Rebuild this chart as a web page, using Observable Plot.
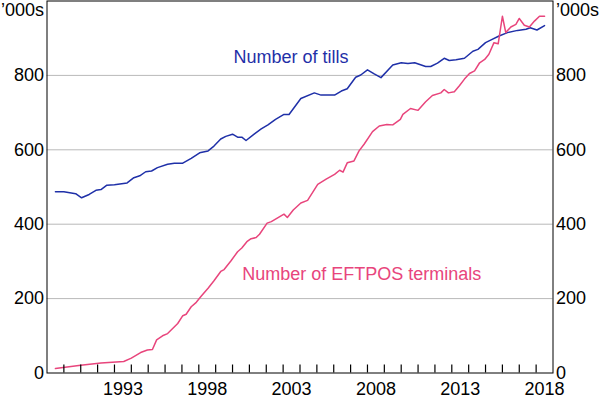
<!DOCTYPE html>
<html>
<head>
<meta charset="utf-8">
<script src="https://cdn.jsdelivr.net/npm/d3@7"></script>
<script src="https://cdn.jsdelivr.net/npm/@observablehq/plot@0.6"></script>
<style>
  html, body { margin: 0; padding: 0; background: white; }
</style>
</head>
<body>
<div id="chart"></div>
<script>
// Number of tills ('000s)
const tillYears = [1989.5,1990.0,1990.7,1991.05,1991.5,1991.9,1992.2,1992.55,1993.0,1993.75,1994.15,1994.5,1994.85,1995.2,1995.55,1996.15,1996.55,1997.05,1997.55,1998.05,1998.55,1998.9,1999.3,1999.6,2000.0,2000.3,2000.55,2000.8,2001.3,2001.7,2002.1,2002.55,2003.05,2003.35,2004.05,2004.85,2005.25,2006.05,2006.45,2006.8,2007.3,2007.6,2008.0,2008.4,2008.8,2009.5,2010.0,2010.4,2010.8,2011.45,2011.75,2012.15,2012.55,2012.85,2013.25,2013.75,2014.25,2014.55,2015.0,2015.3,2015.8,2016.3,2016.9,2017.4,2017.65,2018.05,2018.5];
const tillValues = [487,487,482,471,480,491,493,505,506,511,525,530,541,543,552,561,564,564,577,592,597,610,629,636,642,634,634,625,643,656,667,682,695,695,738,753,747,747,758,764,795,801,815,804,794,828,834,832,834,824,824,833,846,840,842,846,865,870,888,895,906,915,921,924,928,922,934];

// Number of EFTPOS terminals ('000s)
const eftposYears = [1989.5,1991.0,1992.2,1993.55,1994.0,1994.55,1994.95,1995.25,1995.5,1995.85,1996.15,1996.75,1997.05,1997.25,1997.55,1997.85,1998.15,1998.55,1998.9,1999.3,1999.5,1999.9,2000.3,2000.55,2000.85,2001.1,2001.4,2001.6,2002.05,2002.3,2003.05,2003.25,2003.6,2004.05,2004.45,2005.05,2005.55,2006.05,2006.35,2006.55,2006.8,2007.2,2007.5,2007.8,2008.3,2008.7,2009.15,2009.5,2009.95,2010.1,2010.55,2011.0,2011.45,2011.85,2012.35,2012.55,2012.8,2013.15,2013.45,2013.75,2014.05,2014.35,2014.65,2014.95,2015.2,2015.5,2015.75,2016.0,2016.2,2016.5,2016.8,2017.0,2017.3,2017.6,2017.9,2018.2,2018.5];
const eftposValues = [12,21,27,31,40,55,62,63,89,100,106,133,154,158,178,190,207,228,248,273,278,301,326,336,353,361,364,373,403,407,427,418,438,457,464,507,521,534,545,540,565,570,597,615,649,664,668,667,682,695,711,706,729,746,753,762,753,756,772,790,805,812,834,843,857,888,885,959,915,930,937,953,935,930,946,959,959];

const yTicks = [0, 200, 400, 600, 800];
const gridValues = [200, 400, 600, 800];
const yearTicks = [1990,1991,1992,1993,1994,1995,1996,1997,1998,1999,2000,2001,2002,2003,2004,2005,2006,2007,2008,2009,2010,2011,2012,2013,2014,2015,2016,2017,2018];
const yearLabels = [1993, 1998, 2003, 2008, 2013, 2018];
const unitLabel = "\u2019000s";

const seriesNames = ["Number of tills", "Number of EFTPOS terminals"];
const labelX = [2000.05, 2000.57];
const labelY = [832, 249];

const blue = "#1f30a8";
const pink = "#e8457c";

const tills = tillYears.map((year, i) => ({year, value: tillValues[i]}));
const eftpos = eftposYears.map((year, i) => ({year, value: eftposValues[i]}));
const seriesLabels = seriesNames.map((name, i) => ({name, x: labelX[i], y: labelY[i], color: i === 0 ? blue : pink}));

const chart = Plot.plot({
  width: 600,
  height: 398,
  marginLeft: 46.5,
  marginRight: 47.5,
  marginTop: 0.5,
  marginBottom: 25.5,
  x: {domain: [1989, 2019]},
  y: {domain: [0, 1000]},
  style: {fontFamily: "'Liberation Sans', Arial, sans-serif", fontSize: "18px", background: "white", color: "black"},
  marks: [
    Plot.ruleY(gridValues, {stroke: "#b9b9b9", strokeWidth: 1}),
    Plot.line(tills, {x: "year", y: "value", stroke: blue, strokeWidth: 1.5}),
    Plot.line(eftpos, {x: "year", y: "value", stroke: pink, strokeWidth: 1.5}),
    Plot.frame({stroke: "black", strokeWidth: 1}),
    // inward 8px year ticks along the bottom axis
    Plot.ruleX(yearTicks, {x: d => d, insetTop: 364, stroke: "black", strokeWidth: 1.2}),
    Plot.axisY({anchor: "left", ticks: yTicks, tickSize: 0, tickPadding: 3, label: null, fontSize: 18}),
    Plot.axisY({anchor: "right", ticks: yTicks, tickSize: 0, tickPadding: 3, label: null, fontSize: 18}),
    Plot.axisX({ticks: yearLabels.map(y => y + 0.5), tickFormat: d => String(Math.floor(d)), tickSize: 0, tickPadding: 9, label: null, fontSize: 18}),
    Plot.text([unitLabel], {frameAnchor: "top-left", text: d => d, textAnchor: "end", lineAnchor: "top", dx: -3, dy: 2, fontSize: 18}),
    Plot.text([unitLabel], {frameAnchor: "top-right", text: d => d, textAnchor: "start", lineAnchor: "top", dx: 3, dy: 2, fontSize: 18}),
    Plot.text(seriesLabels, {x: "x", y: "y", text: "name", fill: d => d.color, textAnchor: "start", lineAnchor: "bottom", fontSize: 18})
  ]
});
document.getElementById("chart").appendChild(chart);
</script>
</body>
</html>
